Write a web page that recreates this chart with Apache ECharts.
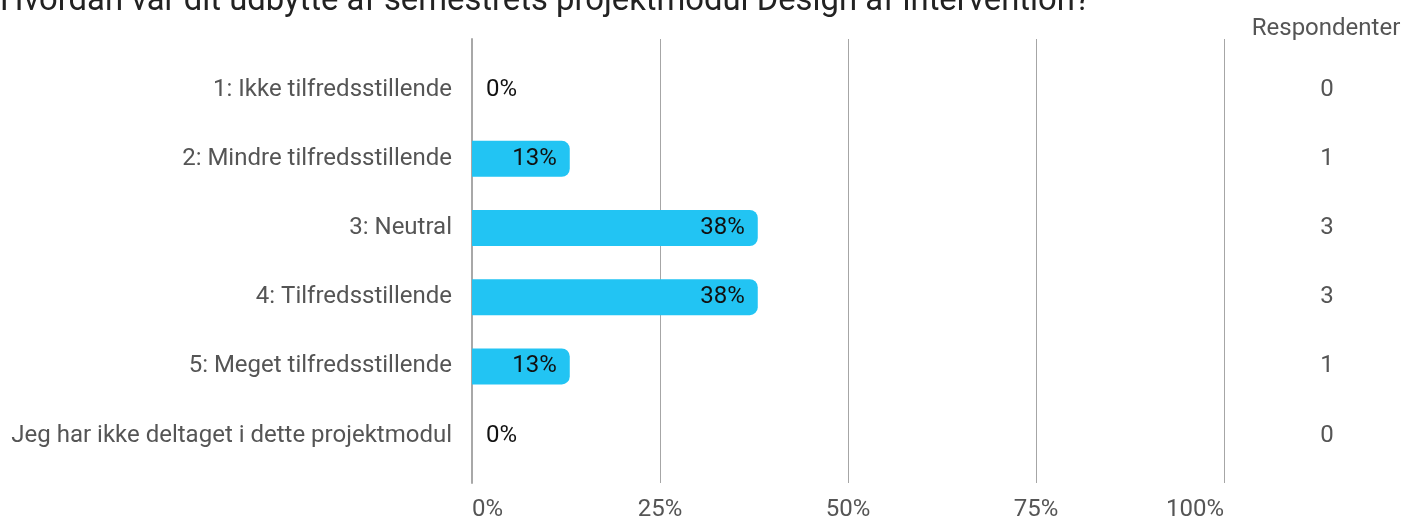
<!DOCTYPE html>
<html>
<head>
<meta charset="utf-8">
<script src="https://cdn.jsdelivr.net/npm/echarts@6/dist/echarts.min.js"></script>
<style>
html,body{margin:0;padding:0;background:#fff;}
#chart{width:1418px;height:518px;}
</style>
</head>
<body>
<div id="chart"></div>
<script>
const titleText = "Hvordan var dit udbytte af semestrets projektmodul Design af intervention?";
const categories = [
  "1: Ikke tilfredsstillende",
  "2: Mindre tilfredsstillende",
  "3: Neutral",
  "4: Tilfredsstillende",
  "5: Meget tilfredsstillende",
  "Jeg har ikke deltaget i dette projektmodul"
];
const percentages = [0, 13, 38, 38, 13, 0];
const percentLabels = ["0%", "13%", "38%", "38%", "13%", "0%"];
const respondents = ["0", "1", "3", "3", "1", "0"];
const respondentsHeader = "Respondenter";
const xTickLabels = ["0%", "25%", "50%", "75%", "100%"];

const FONT = "Roboto";
const chart = echarts.init(document.getElementById('chart'));
chart.setOption({
  animation: false,
  textStyle: { fontFamily: FONT },
  graphic: [
    { type: 'text', left: 0, top: -15, style: { text: titleText, font: '32.8px Roboto', fill: '#222' } },
    { type: 'text', x: 1326, y: 29, style: { text: respondentsHeader, font: '24px Roboto', fill: '#555', align: 'center', verticalAlign: 'middle' } }
  ],
  grid: [
    { left: 472, right: 194, top: 55, height: 415.2, outerBoundsMode: 'none', containLabel: false },
    { left: 472, right: 194, top: 39, height: 444, outerBoundsMode: 'none', containLabel: false }
  ],
  xAxis: [
    { type: 'value', gridIndex: 0, min: 0, max: 100, show: false },
    {
      type: 'value', gridIndex: 1, min: 0, max: 100, interval: 25,
      axisLine: { show: false }, axisTick: { show: false },
      splitLine: { show: true, lineStyle: { color: '#a6a6a6', width: 1 } },
      axisLabel: {
        color: '#555', fontSize: 24, fontFamily: FONT, margin: 15,
        alignMinLabel: 'left', alignMaxLabel: 'right',
        formatter: (v) => xTickLabels[Math.round(v / 25)]
      }
    }
  ],
  yAxis: [
    {
      type: 'category', gridIndex: 0, data: categories, inverse: true,
      axisLine: { show: false }, axisTick: { show: false },
      axisLabel: { color: '#555', fontSize: 24, fontFamily: FONT, margin: 20 }
    },
    {
      type: 'category', gridIndex: 0, data: respondents, inverse: true, position: 'right',
      axisLine: { show: false }, axisTick: { show: false },
      axisLabel: { color: '#555', fontSize: 24, fontFamily: FONT, margin: 103, align: 'center' }
    },
    {
      type: 'value', gridIndex: 1, min: 0, max: 1,
      axisLine: { show: true, lineStyle: { color: '#a8a8a8', width: 2 } },
      axisTick: { show: false }, axisLabel: { show: false }, splitLine: { show: false }
    }
  ],
  series: [{
    type: 'bar',
    xAxisIndex: 0, yAxisIndex: 0,
    barWidth: 36,
    itemStyle: { color: '#22c4f3', borderRadius: [0, 8, 8, 0] },
    label: {
      show: true, position: 'insideRight', distance: 13,
      color: '#111', fontSize: 24, fontFamily: FONT,
      formatter: (p) => percentLabels[p.dataIndex]
    },
    data: percentages.map((v) => v === 0
      ? { value: v, label: { position: 'right', distance: 14 } }
      : { value: v })
  }]
});
</script>
</body>
</html>
